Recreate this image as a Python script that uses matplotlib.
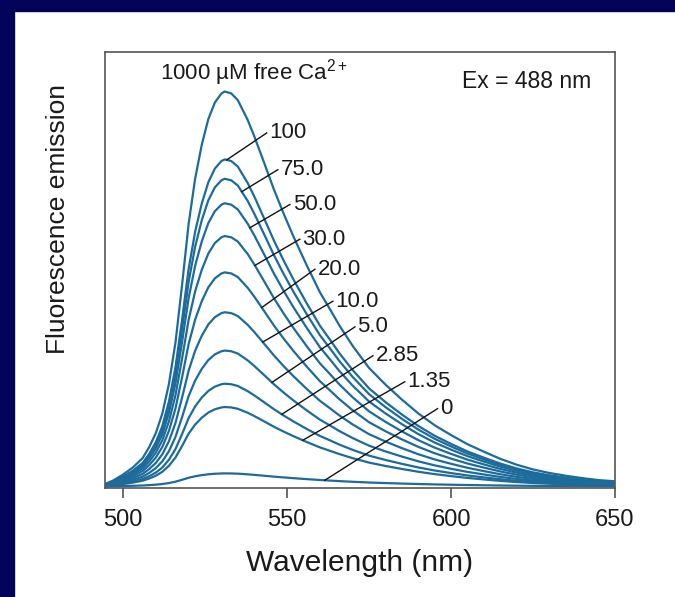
import numpy as np
import matplotlib
matplotlib.use("Agg")
import matplotlib.pyplot as plt
from matplotlib.patches import Rectangle

plt.rcParams['font.family'] = ['Liberation Sans', 'DejaVu Sans']
plt.rcParams['mathtext.fontset'] = 'custom'
plt.rcParams['mathtext.rm'] = 'Liberation Sans'
plt.rcParams['mathtext.it'] = 'Liberation Sans'

# emission profile (normalised to its peak)
wavelength = [494.5, 497, 500, 503, 506, 508, 510, 512, 514, 516, 518, 520, 522,
              524, 526, 528, 530, 531, 533, 535, 538, 540, 543, 546, 549, 552,
              556, 560, 563, 566, 570, 575, 580, 585, 590, 595, 600, 605, 610,
              615, 620, 625, 630, 635, 640, 645, 650]
profile = [0.006, 0.015, 0.03, 0.048, 0.072, 0.10, 0.135, 0.185, 0.26, 0.365,
           0.51, 0.665, 0.78, 0.865, 0.93, 0.972, 0.995, 1.0, 0.995, 0.978,
           0.928, 0.887, 0.82, 0.752, 0.69, 0.632, 0.56, 0.492, 0.45, 0.407,
           0.356, 0.30, 0.258, 0.22, 0.185, 0.155, 0.13, 0.107, 0.088, 0.07,
           0.055, 0.043, 0.034, 0.027, 0.021, 0.016, 0.013]

# free Ca2+ (uM) and peak height of each curve
ca_labels = ["1000", "100", "75.0", "50.0", "30.0", "20.0", "10.0", "5.0", "2.85", "1.35", "0"]
peaks = [1.0, 0.828, 0.779, 0.717, 0.634, 0.542, 0.441, 0.344, 0.260, 0.201, 0.033]

# where each leader line leaves its curve (nm) and where its label sits
leader_from = [None, 531.6, 536.2, 538.7, 540.2, 542.3, 542.6, 545.4, 548.4, 554.8, 561.5]
label_at = [None, (543.8, 0.895), (547.2, 0.802), (550.9, 0.714), (553.9, 0.626),
            (558.5, 0.55), (564.0, 0.469), (570.7, 0.404), (576.2, 0.331),
            (585.9, 0.265), (595.9, 0.197)]

fig = plt.figure(figsize=(6.75, 5.97), dpi=100)
fig.patches.append(Rectangle((0, 0), 14 / 675, 1, transform=fig.transFigure,
                             color='#03035a', zorder=-1))
fig.patches.append(Rectangle((0, 1 - 11 / 597), 1, 11 / 597, transform=fig.transFigure,
                             color='#03035a', zorder=-1))

ax = fig.add_axes([105 / 675, 109 / 597, 510 / 675, 436 / 597])

wl = np.array(wavelength)
prof = np.array(profile)
for pk in peaks:
    ax.plot(wl, pk * prof, color='#1d6b9b', lw=1.6, solid_joinstyle='round')

for i in range(1, len(ca_labels)):
    x0 = leader_from[i]
    y0 = peaks[i] * np.interp(x0, wl, prof)
    x1, y1 = label_at[i]
    ax.plot([x0, x1], [y0, y1], color='#111111', lw=1.0)
    ax.text(x1 + 0.8, y1, ca_labels[i], fontsize=16, color='#1a1a1a',
            ha='left', va='center')

ax.text(0.108, 0.952, "1000 µM free Ca$^{2+}$", transform=ax.transAxes,
        fontsize=16, color='#1a1a1a', ha='left', va='center')
ax.text(0.70, 0.933, "Ex = 488 nm", transform=ax.transAxes,
        fontsize=16.5, color='#1a1a1a', ha='left', va='center')

ax.set_xlim(494.5, 650)
ax.set_ylim(-0.004, 1.1)
ax.set_xticks([500, 550, 600, 650])
ax.set_yticks([])
ax.tick_params(axis='x', direction='out', length=7, width=1.1, color='#444444',
               labelsize=17, labelcolor='#1a1a1a', pad=8)
for s in ax.spines.values():
    s.set_color('#555555')
    s.set_linewidth(1.2)

ax.set_xlabel("Wavelength (nm)", fontsize=21.5, color='#1a1a1a', labelpad=13)
ax.set_ylabel("Fluorescence emission", fontsize=19, color='#1a1a1a')
ax.yaxis.set_label_coords(-0.069, 0.617)

fig.savefig("out.png", dpi=100)
